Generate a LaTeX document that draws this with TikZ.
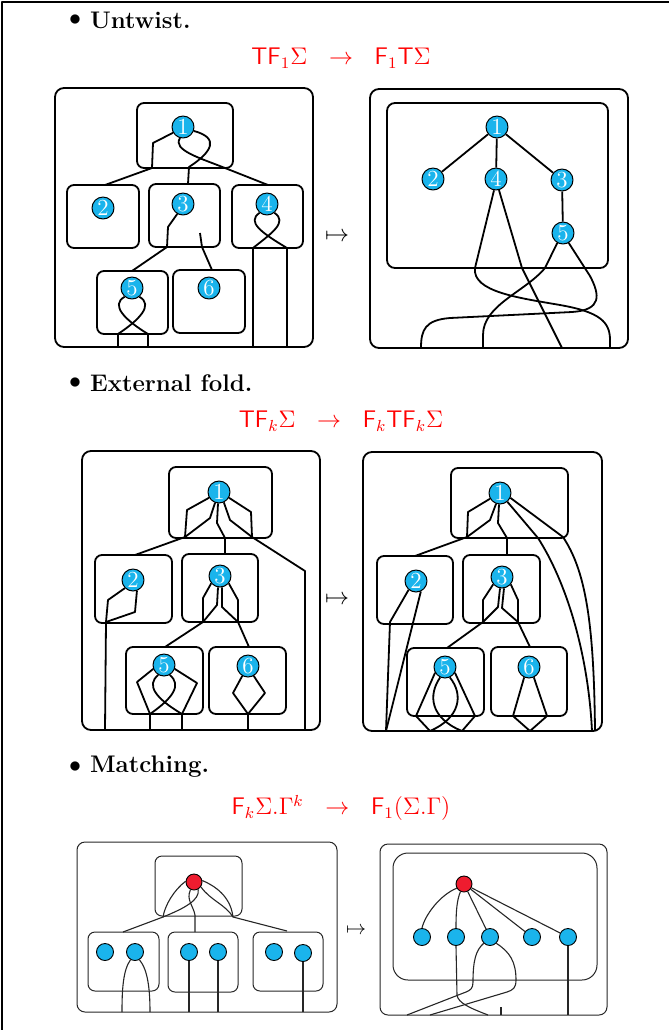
\documentclass[tikz,border=0pt]{standalone}
\usepackage{amsmath}
\usetikzlibrary{positioning}
\definecolor{vblue}{HTML}{1AB4EC}
\definecolor{vred}{HTML}{EE1C2F}
\definecolor{eqred}{HTML}{FF0000}

\begin{document}
\begin{tikzpicture}[x=0.5pt, y=-0.5pt, line join=round,
  panel/.style={draw, line width=0.9pt, rounded corners=4.5pt},
  sub/.style={draw, line width=0.9pt, rounded corners=3.5pt},
  wire/.style={line width=0.9pt},
  vx/.style={circle, draw, line width=0.5pt, fill=vblue, text=white, inner sep=0pt, minimum size=11pt, font=\fontsize{11.5}{11.5}\selectfont},
  tpanel/.style={draw, line width=0.5pt, rounded corners=4pt, black!85},
  twire/.style={line width=0.55pt, black!85},
  dot/.style={circle, draw, line width=0.45pt, fill=vblue, inner sep=0pt, minimum size=8.5pt},
  rdot/.style={dot, fill=vred, minimum size=8pt},
  head/.style={anchor=west, font=\fontsize{12}{14}\selectfont\bfseries},
  bul/.style={font=\fontsize{12}{14}\selectfont},
  eq/.style={text=eqred, font=\fontsize{12}{14}\selectfont},
  maps/.style={font=\fontsize{12}{14}\selectfont}]
  \useasboundingbox (0,0) rectangle (669,1030);
  \draw[line width=1pt] (2,1030) -- (2,2) -- (669,2);

  % headings
  \node[bul] (b1) at (75,20) {$\bullet$};
  \node[head] (h1) at (83,20) {Untwist.};
  \node[eq] (e1) at (341,58) {$\mathsf{TF}_1\Sigma \hspace{7.5pt}\to\hspace{7.5pt} \mathsf{F}_1\mathsf{T}\Sigma$};
  \node[bul] (b2) at (75,383) {$\bullet$};
  \node[head] (h2) at (83,383) {External fold.};
  \node[eq] (e2) at (341,421) {$\mathsf{TF}_k\Sigma \hspace{7.5pt}\to\hspace{7.5pt} \mathsf{F}_k\mathsf{TF}_k\Sigma$};
  \node[bul] (b3) at (75,767) {$\bullet$};
  \node[head] (h3) at (83,767) {Matching.};
  \node[eq] (e3) at (341,808) {$\mathsf{F}_k\Sigma.\Gamma^k \hspace{7.5pt}\to\hspace{7.5pt} \mathsf{F}_1(\Sigma.\Gamma)$};
  \node[maps] (m1) at (337,237) {$\mapsto$};
  \node[maps] (m2) at (337,600) {$\mapsto$};
  \node[font=\fontsize{10}{12}\selectfont] (m3) at (356,931) {$\mapsto$};

  % untwist, left
  \draw[panel] (55,88) rectangle (313,347);
  \foreach \xa/\ya/\xb/\yb in {137/103/233/168, 67/185/139/248, 149/184/220/247, 232/185/303/248, 97/271/168/334, 173/270/245/333}
    \draw[sub] (\xa,\ya) rectangle (\xb,\yb);
  \node[vx] (a1) at (183,127) {1};
  \node[vx] (a2) at (103,208) {2};
  \node[vx] (a3) at (183,204) {3};
  \node[vx] (a4) at (267,204) {4};
  \node[vx] (a5) at (132,288) {5};
  \node[vx] (a6) at (209,288) {6};
  \draw[wire] (a1.-150) -- (153,143) -- (152,168) -- (105,185);
  \draw[wire] (a1.-105) .. controls (172,150) and (200,158) .. (225,168) -- (268,185);
  \draw[wire] (a1.-20) .. controls (220,138) and (212,152) .. (189,167) -- (188,184);
  \draw[wire] (a3.-120) -- (168,227) -- (167,247) -- (132,271);
  \coordinate (a3x) at (200,233);
  \draw[wire] (a3x) -- (202,247) -- (212,270);
  \draw[wire] (a4.-130) .. controls (246,222) and (262,233) .. (287,248) -- (287,347);
  \draw[wire] (a4.-50) .. controls (288,222) and (272,233) .. (253,248) -- (253,347);
  \draw[wire] (a5.-130) .. controls (110,305) and (125,320) .. (148,334) -- (148,347);
  \draw[wire] (a5.-50) .. controls (154,305) and (139,320) .. (118,334) -- (118,347);

  % untwist, right
  \draw[panel] (370,89) rectangle (628,348);
  \draw[panel, rounded corners=4pt] (387,103) rectangle (608,268);
  \node[vx] (c1) at (497,127) {1};
  \node[vx] (c2) at (433,179) {2};
  \node[vx] (c4) at (496,179) {4};
  \node[vx] (c3) at (562,180) {3};
  \node[vx] (c5) at (563,233) {5};
  \foreach \a/\b in {c1/c2,c1/c4,c1/c3,c3/c5} \draw[wire] (\a) -- (\b);
  \draw[wire] (c4.-100) -- (475,268) .. controls (472,292) and (520,298) .. (560,305) .. controls (600,312) and (610,322) .. (610,340) -- (610,348);
  \draw[wire] (c4.-75) -- (522,268) -- (562,348);
  \draw[wire] (c5.-120) -- (545,268) .. controls (525,292) and (483,305) .. (483,335) -- (483,348);
  \draw[wire] (c5.-60) -- (590,276) .. controls (600,295) and (602,310) .. (572,312) -- (450,318) .. controls (425,320) and (421,330) .. (421,348);

  % external fold, left
  \draw[panel] (82,451) rectangle (320,730);
  \foreach \xa/\ya/\xb/\yb in {169/467/272/538, 95/555/172/623, 182/554/258/622, 126/647/203/714, 209/647/286/714}
    \draw[sub] (\xa,\ya) rectangle (\xb,\yb);
  \node[vx] (f1) at (219,492) {1};
  \node[vx] (f2) at (133,580) {2};
  \node[vx] (f3) at (220,576) {3};
  \node[vx] (f5) at (164,665) {5};
  \node[vx] (f6) at (248,666) {6};
  \draw[wire] (f1.-150) -- (187,510) -- (185,537) -- (135,555);
  \draw[wire] (f1.-110) -- (210,518) -- (185,537);
  \draw[wire] (f1.-95) -- (217,523) -- (225,538) -- (225,554);
  \draw[wire] (f1.-65) -- (230,520) -- (252,537) -- (305,571) -- (305,730);
  \draw[wire] (f1.-30) -- (251,512) -- (252,537);
  \draw[wire] (f2.-135) -- (108,600) -- (106,622) -- (105,730);
  \draw[wire] (f2.-70) -- (135,612) -- (106,622);
  \draw[wire] (f3.-140) -- (203,598) -- (203,622) -- (165,647);
  \draw[wire] (f3.-100) -- (217,605) -- (203,622);
  \draw[wire] (f3.-80) -- (222,607) -- (238,622) -- (249,647);
  \draw[wire] (f3.-40) -- (238,600) -- (238,622);
  \draw[wire] (f5.-160) -- (137,682) -- (150,714) -- (150,730);
  \draw[wire] (f5.-20) -- (197,683) -- (182,714) -- (182,730);
  \draw[wire] (f5.-120) .. controls (146,685) and (155,698) .. (182,714);
  \draw[wire] (f5.-60) .. controls (182,685) and (173,698) .. (150,714);
  \draw[wire] (f6.-120) -- (233,693) -- (248,714) -- (248,730);
  \draw[wire] (f6.-60) -- (265,693) -- (248,714);

  % external fold, right
  \draw[panel] (363,452) rectangle (602,731);
  \foreach \xa/\ya/\xb/\yb in {451/468/568/538, 377/556/453/624, 463/555/540/623, 407/648/484/716, 491/647/567/716}
    \draw[sub] (\xa,\ya) rectangle (\xb,\yb);
  \node[vx] (g1) at (500,493) {1};
  \node[vx] (g2) at (416,581) {2};
  \node[vx] (g3) at (502,577) {3};
  \node[vx] (g5) at (445,667) {5};
  \node[vx] (g6) at (529,667) {6};
  \draw[wire] (g1.-150) -- (468,512) -- (467,537) -- (415,556);
  \draw[wire] (g1.-110) -- (490,520) -- (467,537);
  \draw[wire] (g1.-95) -- (498,523) -- (507,538) -- (507,555);
  \draw[wire] (g1.-50) -- (538,538) .. controls (565,580) and (588,650) .. (592,731);
  \draw[wire] (g1.-25) -- (563,537) .. controls (585,570) and (594,620) .. (595,731);
  \draw[wire] (g2.-130) -- (390,622) -- (386,731);
  \draw[wire] (g2.-65) -- (386,731);
  \draw[wire] (g3.-140) -- (483,600) -- (483,622) -- (447,648);
  \draw[wire] (g3.-100) -- (498,607) -- (483,622);
  \draw[wire] (g3.-80) -- (502,608) -- (518,622) -- (530,647);
  \draw[wire] (g3.-40) -- (518,600) -- (518,622);
  \draw[wire] (g5.-150) -- (416,716) -- (430,731);
  \draw[wire] (g5.-30) -- (475,716) -- (462,731);
  \draw[wire] (g5.-115) .. controls (428,695) and (430,718) .. (462,731);
  \draw[wire] (g5.-65) .. controls (464,695) and (460,718) .. (430,731);
  \draw[wire] (g6.-115) -- (513,716) -- (530,731);
  \draw[wire] (g6.-65) -- (547,716) -- (530,731);

  % matching, left
  \draw[tpanel] (77,842) rectangle (337,1012);
  \foreach \xa/\ya/\xb/\yb in {155/856/242/916, 88/932/159/991, 168/932/238/992, 253/932/323/991}
    \draw[tpanel, rounded corners=3.5pt] (\xa,\ya) rectangle (\xb,\yb);
  \node[rdot] (r0) at (194,882) {};
  \node[dot] (p1) at (105,952) {};
  \node[dot] (p2) at (135,952) {};
  \node[dot] (p3) at (189,952) {};
  \node[dot] (p4) at (218,952) {};
  \node[dot] (p5) at (274,952) {};
  \node[dot] (p6) at (303,953) {};
  \coordinate (bot5) at (0,1012);
  \draw[twire] (r0.175) .. controls (174,890) and (165,905) .. (163,917) -- (123,932);
  \draw[twire] (r0.-60) .. controls (200,900) and (185,908) .. (163,917);
  \draw[twire] (r0.-115) .. controls (186,900) and (193,905) .. (195,915) -- (195,932);
  \draw[twire] (r0.-35) .. controls (210,900) and (226,905) .. (233,917) -- (287,931);
  \draw[twire] (r0.10) .. controls (220,888) and (231,900) .. (233,917);
  \draw[twire] (p2.-120) .. controls (123,970) and (122,990) .. (122,1012);
  \draw[twire] (p2.-60) .. controls (148,970) and (150,990) .. (150,1012);
  \foreach \n in {p3,p4,p6} \draw[twire] (\n.south) -- (\n.south |- bot5);

  % matching, right
  \draw[tpanel] (380,844) rectangle (607,1015);
  \draw[tpanel, rounded corners=7.5pt] (393,853) rectangle (597,980);
  \node[rdot] (s0) at (464,884) {};
  \node[dot] (q1) at (422,937) {};
  \node[dot] (q2) at (456,937) {};
  \node[dot] (q3) at (490,937) {};
  \node[dot] (q4) at (532,937) {};
  \node[dot] (q5) at (568,937) {};
  \coordinate (bot6) at (0,1015);
  \draw[twire] (s0.-150) .. controls (440,895) and (425,915) .. (q1.north);
  \draw[twire] (s0.-115) .. controls (457,900) and (456,910) .. (q2.north);
  \foreach \n in {q3,q4,q5} \draw[twire] (s0) -- (\n);
  \draw[twire] (q2.south) -- (457,995) .. controls (458,1003) and (470,1008) .. (488,1015);
  \draw[twire] (q3.-135) .. controls (476,950) and (473,960) .. (473,982) .. controls (473,988) and (471,990) .. (466,992) -- (407,1015);
  \draw[twire] (q3.-45) .. controls (510,952) and (516,962) .. (516,980) .. controls (516,988) and (513,990) .. (507,992) -- (430,1015);
  \coordinate (stub) at (501,1007);
  \draw[twire] (stub) -- (stub |- bot6);
  \draw[twire] (q5.south) -- (q5.south |- bot6);
\end{tikzpicture}
\end{document}
